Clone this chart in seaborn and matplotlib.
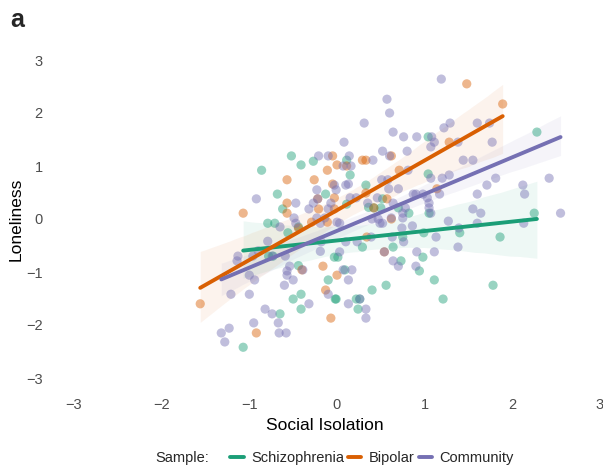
import matplotlib
matplotlib.use("Agg")
import matplotlib.pyplot as plt
from matplotlib.lines import Line2D
import seaborn as sns
import pandas as pd

# Values
groups = ["Schizophrenia", "Bipolar", "Community"]
palette = {"Schizophrenia": "#1B9E77", "Bipolar": "#D95F02", "Community": "#7570B3"}

schizo_x = [-0.52, -0.41, -0.27, -0.86, -0.13, -0.68, -0.62, -0.79, -0.71, -0.44,
            -0.56, -0.78, -0.73, -0.44, -0.10, -0.02, -0.41, -0.50, -0.41, -0.65,
            -1.07, 0.11, 0.15, 0.33, 0.11, 0.42, 0.50, 0.52, 0.70, 0.82,
            1.05, 1.04, 1.04, 0.99, 1.40, 0.75, 0.29, 0.64, -0.03, 0.01,
            0.98, 0.73, 0.94, 0.09, 1.11, 0.56, 0.40, -0.01, 0.22, 0.26,
            0.24, 1.21, 2.28, 2.25, 1.86, 1.78, 0.36]
schizo_y = [1.19, 1.02, 1.09, 0.92, 0.47, 0.47, 0.19, -0.08, -0.08, -0.15,
            -0.26, -0.70, -0.70, -0.88, -1.15, -1.51, -1.42, -1.51, -1.70, -1.79,
            -2.42, 1.11, 0.83, 0.64, 0.28, 0.21, 0.21, 0.38, 0.21, 0.11,
            0.11, 0.85, 1.55, -0.26, -0.26, -0.34, -0.53, -0.53, -0.72, -0.72,
            -0.72, -0.79, -0.98, -0.96, -1.15, -1.25, -1.34, -1.51, -1.51, -1.51,
            -1.70, -1.51, 1.64, 0.11, -0.34, -1.25, 0.22]

bipolar_x = [1.48, 1.89, 1.28, -0.05, 0.00, 0.11, 0.29, 0.33, 0.62, 0.71,
             -0.11, -0.57, -0.26, -0.05, -1.07, -0.57, -0.57, -0.22, -0.21, -0.03,
             -0.29, -0.11, -0.44, -0.16, -0.40, 0.00, -0.13, -1.56, -0.07, -0.92,
             -0.03, 0.42, 0.57, 0.33, 1.14, 0.62, 0.34, 0.54]
bipolar_y = [2.55, 2.17, 1.45, 1.19, 1.02, 1.00, 1.11, 1.11, 1.19, 0.92,
             0.92, 0.74, 0.74, 0.66, 0.11, 0.30, 0.11, 0.38, 0.19, 0.19,
             -0.06, -0.06, -0.17, -0.89, -0.96, -1.06, -1.34, -1.60, -1.87, -2.15,
             0.40, 0.21, 0.38, 0.49, 0.57, 0.00, -0.34, -0.62]

comm_x = [-0.21, -0.10, -0.23, -0.01, -0.92, -0.47, -0.27, -0.22, -0.07, -0.32,
          -0.10, -0.49, -0.65, -0.47, -0.23, -0.19, -0.14, 0.00, -0.79, -1.13,
          -1.14, -0.90, -0.96, -0.74, -0.59, -0.54, -0.57, -0.57, -0.39, -0.19,
          -0.18, -1.00, -0.94, -0.50, -0.60, -1.21, -1.00, -0.32, -0.82, -0.74,
          -0.95, -0.67, -1.23, -1.32, -0.66, -0.58, -1.28, -0.10, 0.03, -0.03,
          0.10, 0.15, 0.22, 0.35, 0.46, 0.51, 0.58, 0.59, 0.70, 0.64,
          0.87, 0.90, 0.98, 1.03, 1.05, 1.05, 1.17, 0.78, 0.75, 0.40,
          0.47, 0.49, 0.52, 0.75, 0.86, 1.27, 1.07, 0.74, 0.62, 1.13,
          1.39, 1.38, 0.63, 0.76, 0.39, 0.10, 0.23, 0.54, 0.03, 0.91,
          1.11, 0.64, 0.70, 0.90, 0.07, 0.17, 0.13, 0.26, 0.13, 0.33,
          0.33, 1.19, 0.57, 0.60, 0.31, 1.22, 1.29, 0.64, 0.76, 0.91,
          1.08, 1.11, 0.08, 1.38, 1.07, 0.52, 0.80, 0.14, 0.07, 0.16,
          0.41, 0.60, 1.44, 0.81, 1.28, 1.07, 1.20, 0.13, 1.60, 1.74,
          1.77, 1.55, 1.81, 2.42, 1.71, 2.12, 1.60, 2.14, 1.55, 1.64,
          2.55, 1.60, 2.13]
comm_y = [1.19, 1.19, 0.55, 0.55, 0.38, 0.30, 0.30, 0.38, 0.30, 0.19,
          0.19, 0.02, -0.15, -0.08, 0.02, -0.08, 0.02, -0.06, -0.42, -0.70,
          -0.79, -0.60, -0.70, -0.70, -0.70, -0.89, -0.98, -1.06, -0.96, -0.61,
          -0.43, -1.06, -1.15, -1.15, -1.25, -1.42, -1.42, -1.60, -1.70, -1.79,
          -1.96, -1.96, -2.06, -2.15, -2.15, -2.15, -2.32, -1.42, -0.08, 0.64,
          0.64, 0.40, 0.40, 0.30, 0.40, 0.74, 0.74, 0.57, 0.57, 0.30,
          0.47, 0.47, 0.47, 0.40, 0.30, 0.21, 0.47, 0.21, 0.11, 0.00,
          0.00, -0.08, -0.08, 0.02, -0.13, -0.04, 0.11, -0.17, 0.02, -0.34,
          -0.17, -0.53, -0.34, -0.43, -0.34, -0.43, -0.43, -0.62, -0.62, -0.62,
          -0.62, -0.79, -0.89, -0.89, -0.96, -0.96, -1.15, -1.51, -1.60, -1.70,
          -1.87, 2.64, 2.26, 2.00, 1.81, 1.72, 1.81, 1.64, 1.55, 1.55,
          1.55, 1.45, 1.45, 1.45, 1.36, 1.28, 1.28, 1.19, 1.00, 1.00,
          1.11, 1.19, 1.11, 0.92, 0.83, 0.77, 0.77, 0.66, 1.81, 1.81,
          1.45, 1.11, 0.77, 0.77, 0.64, 0.64, 0.47, 0.47, 0.19, 0.11,
          0.11, -0.08, -0.08]

ticks = [-3, -2, -1, 0, 1, 2, 3]

df = pd.concat([
    pd.DataFrame({"x": schizo_x, "y": schizo_y, "Sample": "Schizophrenia"}),
    pd.DataFrame({"x": bipolar_x, "y": bipolar_y, "Sample": "Bipolar"}),
    pd.DataFrame({"x": comm_x, "y": comm_y, "Sample": "Community"}),
], ignore_index=True)

sns.set_theme(style="white")
plt.rcParams["font.family"] = ["Liberation Sans", "DejaVu Sans"]

fig = plt.figure(figsize=(6.03, 4.67), dpi=100)
ax = fig.add_axes([47 / 603, 1 - 394 / 467, 556 / 603, 350 / 467])

sns.scatterplot(data=df, x="x", y="y", hue="Sample", hue_order=groups,
                palette=palette, alpha=0.45, s=44, linewidth=0, legend=False,
                ax=ax, zorder=2)

for g in groups:
    sub = df[df["Sample"] == g]
    sns.regplot(data=sub, x="x", y="y", scatter=False, ci=95, seed=1,
                color=palette[g], line_kws={"lw": 2.8, "zorder": 3}, ax=ax)

# ribbons lighter, like the reference
for coll in ax.collections[1:]:
    coll.set_alpha(0.07)

ax.set_xlim(-3 - 27 / 87.7, 3 + 3 / 87.7)
ax.set_ylim(-3 - 16 / 53, 3 + 16 / 53)
ax.set_xticks(ticks)
ax.set_yticks(ticks)
ax.set_xticklabels([str(t).replace("-", "\u2212") for t in ticks])
ax.set_yticklabels([str(t).replace("-", "\u2212") for t in ticks])
ax.tick_params(axis="both", length=0, labelsize=10.5, colors="#4d4d4d", pad=3)
ax.set_xlabel("Social Isolation", fontsize=12.5, color="black", labelpad=4)
ax.set_ylabel("Loneliness", fontsize=12.5, color="black", labelpad=2)
ax.grid(False)
sns.despine(ax=ax, left=True, bottom=True)

handles = [Line2D([0], [0], color=palette[g], lw=2.8) for g in groups]
fig.legend(handles, groups, loc="center", bbox_to_anchor=(372 / 603, 1 - 458 / 467),
           ncol=3, frameon=False, fontsize=10.5, handlelength=0.9,
           handletextpad=0.5, columnspacing=0.3)
fig.text(155 / 603, 1 - 458 / 467, "Sample:", fontsize=10.5, ha="left", va="center")

fig.text(10 / 603, 1 - 8 / 467, "a", fontsize=18, fontweight="bold", ha="left", va="top")

fig.savefig("out.png", dpi=100)
plt.close(fig)
